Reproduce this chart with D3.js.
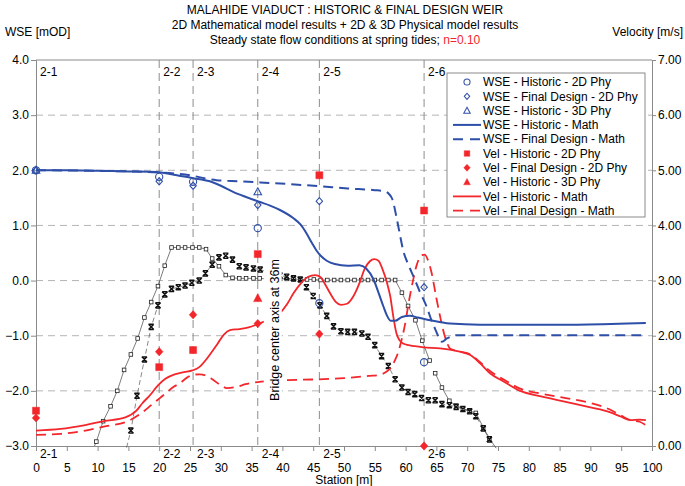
<!DOCTYPE html>
<html><head><meta charset="utf-8">
<script src="https://cdn.jsdelivr.net/npm/d3@7"></script>
<style>
body{margin:0;background:#fff;}
svg{font-family:"Liberation Sans",Arial,sans-serif;}
</style></head>
<body><svg id="c" width="685" height="486"></svg>
<script>
// ---------- DATA ----------
const xTicks = [0,5,10,15,20,25,30,35,40,45,50,55,60,65,70,75,80,85,90,95,100];
const wseTicks = [-3,-2,-1,0,1,2,3,4];
const velTicks = [0,1,2,3,4,5,6,7];
const stationPos = [0,20,25.5,36,46,63];
const stationLabels = ["2-1","2-2","2-3","2-4","2-5","2-6"];

const wseHist2D = [[0,2.0],[20,1.88],[25.5,1.79],[36,0.95],[46,-0.41],[63,-1.48]];
const wseFinal2D = [[0,2.0],[20,1.80],[25.5,1.72],[36,1.37],[46,1.44],[63,-0.12]];
const wseHist3D = [[0,2.0],[36,1.61]];
const velHist2D = [[0,0.64],[20,1.43],[25.5,1.74],[36,3.48],[46,4.91],[63,4.27]];
const velFinal2D = [[0,0.51],[20,1.71],[25.5,2.38],[36,2.22],[46,2.03],[63,0.0]];
const velHist3D = [[36,2.68]];

const wseHistMath = [[0,2.0],[5,2.0],[10,1.99],[15,1.98],[19.6,1.97],[22,1.93],[25.3,1.86],[28.2,1.80],[30,1.72],[32,1.61],[34,1.52],[36.2,1.43],[38,1.36],[39.6,1.28],[41.8,1.13],[43,1.01],[43.9,0.86],[44.8,0.68],[45.5,0.55],[46.3,0.44],[47.2,0.36],[48.5,0.30],[50.6,0.27],[52.5,0.28],[53.6,0.22],[54.8,0.02],[55.6,-0.22],[56.4,-0.47],[57,-0.64],[57.6,-0.73],[58.3,-0.73],[59.4,-0.66],[60.7,-0.64],[62,-0.67],[64,-0.72],[67.2,-0.78],[72,-0.80],[77,-0.80],[85,-0.80],[92,-0.79],[96,-0.78],[99,-0.77]];
const wseFinalMath = [[0,2.0],[10,1.99],[20,1.96],[25.5,1.90],[27.5,1.85],[29.3,1.82],[33,1.80],[36.4,1.78],[41,1.75],[46.1,1.71],[50.6,1.67],[55,1.64],[56.5,1.62],[57.3,1.57],[57.9,1.46],[58.5,1.16],[59.1,0.82],[59.6,0.55],[60.4,0.30],[61.3,0.07],[62.3,-0.20],[63.4,-0.47],[64.2,-0.72],[65,-0.93],[65.6,-1.08],[65.9,-1.11],[66.7,-1.05],[68.3,-0.99],[72,-0.99],[80,-0.99],[90,-0.99],[99,-0.99]];
const velHistMath = [[0,0.28],[4,0.31],[8,0.38],[11,0.45],[14.5,0.52],[16.3,0.64],[17.3,0.78],[18.5,0.92],[19.8,1.10],[21,1.22],[22.5,1.30],[24,1.34],[25.4,1.37],[26.5,1.43],[27.5,1.55],[28.3,1.67],[29.5,1.86],[30.5,2.02],[31.5,2.10],[33,2.12],[34.5,2.15],[36.2,2.22],[38,2.30],[39.6,2.41],[40.8,2.58],[41.8,2.77],[43,2.95],[44.2,3.07],[45.3,3.10],[46.2,3.06],[47,2.92],[47.8,2.76],[48.7,2.61],[49.5,2.56],[50.5,2.58],[51.5,2.71],[52.6,2.98],[53.3,3.20],[54.2,3.35],[54.9,3.39],[55.6,3.36],[56.2,3.22],[57,2.95],[57.5,2.72],[58,2.35],[58.5,2.05],[59,1.92],[59.6,1.86],[60.5,1.83],[61.5,1.81],[62.9,1.79],[65.6,1.77],[68.8,1.71],[70.5,1.65],[72.1,1.50],[73.7,1.32],[75.9,1.17],[78.6,1.00],[82,0.90],[86,0.80],[90,0.70],[93,0.62],[95,0.53],[96.5,0.47],[98,0.48],[99,0.47]];
const velFinalMath = [[0,0.20],[4,0.22],[8,0.28],[11,0.35],[15.3,0.47],[17.4,0.62],[19,0.77],[20,0.86],[21,0.95],[22.3,1.07],[23.4,1.14],[24.5,1.24],[25.4,1.29],[26.6,1.30],[27.5,1.28],[28.5,1.22],[30,1.10],[31,1.05],[32.5,1.07],[34,1.12],[36,1.16],[40,1.19],[46,1.21],[50,1.23],[54,1.27],[55.8,1.29],[56.8,1.34],[57.6,1.42],[58.3,1.56],[58.8,1.70],[59.4,1.95],[59.9,2.20],[60.5,2.60],[61.2,3.00],[61.8,3.28],[62.6,3.46],[63.1,3.47],[63.6,3.38],[64.2,3.15],[65,2.68],[65.6,2.35],[66.1,2.10],[66.7,1.88],[67.2,1.77],[68.5,1.72],[70.5,1.66],[72,1.53],[73.7,1.36],[76,1.20],[78.6,1.04],[82,0.95],[86,0.87],[90,0.78],[93,0.67],[95,0.55],[96.5,0.47],[98,0.44],[99,0.38]];

// bed profiles (WSE units)
const bedSquares = [[9.5,-3.0,0],[9.8,-2.92],[10.9,-2.55],[12.1,-2.28],[13.2,-2.0],[14.3,-1.62],[15.4,-1.34],[16.5,-1.05],[17.6,-0.67],[18.7,-0.39],[19.8,-0.10],[20.9,0.27],[22.0,0.60],[23.1,0.60],[24.2,0.60],[25.4,0.60],[26.5,0.60],[27.6,0.57],[28.6,0.40],[29.7,0.26],[30.8,0.10],[31.9,0.05],[33.0,0.04],[34.1,0.04],[35.3,0.04],[36.3,0.04],[37.4,0.03],[38.5,0.03],[39.6,0.03],[40.7,0.03],[41.8,0.03],[42.9,0.02],[44.0,0.02],[45.1,0.02],[46.2,0.01],[47.3,0.01],[48.4,0.01],[49.5,0.01],[50.6,0.01],[51.7,0.01],[52.8,0.01],[53.9,0.01],[55.0,0.01],[56.1,0.01],[57.2,0.01],[58.3,0.01],[59.4,-0.22],[60.4,-0.46],[61.6,-0.72],[62.7,-1.09],[63.9,-1.45],null,[64.8,-1.68],[65.9,-1.94],[67.1,-2.18],[68.2,-2.27],[69.3,-2.32],[70.4,-2.37],[71.4,-2.40],[72.6,-2.66],[73.6,-2.86],[74.7,-3.04,0]];
const bedCrosses = [[14.7,-3.03,0],[15.4,-2.72],[16.4,-2.09],[17.6,-1.43],[18.7,-0.84],[19.8,-0.45],[20.9,-0.25],[22.0,-0.15],[23.1,-0.12],[24.2,-0.09],[25.3,-0.04],[26.5,0.0],[27.5,0.13],[28.6,0.29],[29.7,0.42],[30.8,0.45],[31.9,0.38],[33.0,0.26],[34.1,0.24],[35.3,0.22],[36.4,0.20],[37.5,0.16],[38.6,0.12],[39.6,0.09],[40.7,0.07],[41.8,0.04],[42.9,0.02],[43.9,-0.12],[45.0,-0.28],[46.1,-0.45],[47.2,-0.64],[48.3,-0.83],[49.5,-0.92],[50.6,-0.93],[51.7,-0.93],[52.9,-0.96],[53.9,-1.02],[55.0,-1.17],[56.1,-1.37],[57.2,-1.55],[58.3,-1.79],[59.4,-1.94],[60.4,-2.02],[61.5,-2.06],[62.6,-2.13],[63.7,-2.17],[64.8,-2.17],[65.9,-2.24],[67.1,-2.26],[68.2,-2.29],[69.3,-2.33],[70.4,-2.37],[71.4,-2.46],[72.6,-2.68],[73.6,-2.88],[74.2,-3.0,0]];

const legendLabels = ["WSE - Historic - 2D Phy","WSE - Final Design - 2D Phy","WSE - Historic - 3D Phy","WSE - Historic - Math","WSE - Final Design - Math","Vel - Historic - 2D Phy","Vel - Final Design - 2D Phy","Vel - Historic - 3D Phy","Vel - Historic - Math","Vel - Final Design - Math"];

// ---------- DRAW ----------
const BLUE = "#2E4FA8", RED = "#F2262B", GRID = "#b4b4b4", AX = "#8a8a8a";
const svg = d3.select("#c");
const L = 36, R = 652, T = 60, B = 446;
const x = d3.scaleLinear([0,100],[L,R]);
const y = d3.scaleLinear([-3,4],[B,T]);
const yv = d3.scaleLinear([0,7],[B,T]);

// titles
const tg = svg.append("g").attr("font-size",12).attr("text-anchor","middle").attr("fill","#000");
tg.append("text").attr("x",345).attr("y",14).text("MALAHIDE VIADUCT : HISTORIC & FINAL DESIGN WEIR");
tg.append("text").attr("x",345).attr("y",29).text("2D Mathematical model results + 2D & 3D Physical model results");
const t3 = tg.append("text").attr("x",345).attr("y",44);
t3.append("tspan").text("Steady state flow conditions at spring tides; ");
t3.append("tspan").attr("fill",RED).text("n=0.10");
svg.append("text").attr("x",5).attr("y",36).attr("font-size",12).text("WSE [mOD]");
svg.append("text").attr("x",683).attr("y",36).attr("font-size",12).attr("text-anchor","end").text("Velocity [m/s]");

// horizontal grid
svg.append("g").selectAll("line").data(wseTicks.filter(d=>d>-3&&d<4)).join("line")
  .attr("x1",L).attr("x2",R).attr("y1",d=>y(d)).attr("y2",d=>y(d))
  .attr("stroke",GRID).attr("stroke-dasharray","7,5").attr("stroke-width",1);
// top border
svg.append("line").attr("x1",L).attr("x2",R).attr("y1",T).attr("y2",T).attr("stroke",AX);

// station lines
svg.append("g").selectAll("line").data(stationPos.slice(1)).join("line")
  .attr("x1",d=>x(d)).attr("x2",d=>x(d)).attr("y1",T).attr("y2",B)
  .attr("stroke","#8c8c8c").attr("stroke-dasharray","8,5").attr("stroke-width",1);
const sl = svg.append("g").attr("font-size",12);
sl.selectAll("text.top").data(stationPos).join("text").attr("class","top")
  .attr("x",d=>x(d)+4).attr("y",T+16).text((d,i)=>stationLabels[i]);
sl.selectAll("text.bot").data(stationPos).join("text").attr("class","bot")
  .attr("x",d=>x(d)+4).attr("y",B+12).text((d,i)=>stationLabels[i]);

// axes
const fmt1 = d3.format(".1f"), fmt2 = d3.format(".2f");
const gl = svg.append("g").attr("transform",`translate(${L},0)`)
  .call(d3.axisLeft(y).tickValues(wseTicks).tickFormat(fmt1).tickSize(5).tickPadding(2));
const gr = svg.append("g").attr("transform",`translate(${R},0)`)
  .call(d3.axisRight(yv).tickValues(velTicks).tickFormat(fmt2).tickSize(4).tickPadding(2));
const gb = svg.append("g").attr("transform",`translate(0,${B})`)
  .call(d3.axisBottom(x).tickValues(xTicks).tickFormat(d3.format("d")).tickSize(5).tickPadding(12));
[gl,gr,gb].forEach(g=>{
  g.selectAll("path,line").attr("stroke",AX);
  g.selectAll("text").attr("font-size",12).attr("fill","#000").attr("font-family","Liberation Sans, Arial, sans-serif");
});
svg.append("text").attr("x",344).attr("y",484).attr("font-size",12).attr("text-anchor","middle").text("Station [m]");

// bed profiles
const lineW = d3.line().defined(d=>d!==null).x(d=>x(d[0])).y(d=>y(d[1]));
svg.append("path").datum(bedSquares).attr("d",lineW).attr("fill","none").attr("stroke","#444").attr("stroke-width",0.7);
svg.append("path").datum(bedCrosses).attr("d",lineW).attr("fill","none").attr("stroke","#555").attr("stroke-width",0.7).attr("stroke-dasharray","5,3");
svg.append("g").selectAll("rect").data(bedSquares.filter(d=>d&&d.length===2)).join("rect")
  .attr("x",d=>x(d[0])-1.8).attr("y",d=>y(d[1])-1.8).attr("width",3.6).attr("height",3.6)
  .attr("fill","#fff").attr("stroke","#222").attr("stroke-width",0.8);
svg.append("g").selectAll("path").data(bedCrosses.filter(d=>d.length===2)).join("path")
  .attr("transform",d=>`translate(${x(d[0])},${y(d[1])})`)
  .attr("d","M-2.6,-2.6L2.6,2.6M2.6,-2.6L-2.6,2.6M-2.6,-2.6H2.6M-2.6,2.6H2.6")
  .attr("stroke","#111").attr("stroke-width",1.4).attr("fill","none");

// math lines
const curve = d3.curveMonotoneX;
const lW = d3.line().x(d=>x(d[0])).y(d=>y(d[1])).curve(curve);
const lV = d3.line().x(d=>x(d[0])).y(d=>yv(d[1])).curve(curve);
svg.append("path").datum(velFinalMath).attr("d",lV).attr("fill","none").attr("stroke",RED).attr("stroke-width",1.8).attr("stroke-dasharray","10,6");
svg.append("path").datum(velHistMath).attr("d",lV).attr("fill","none").attr("stroke",RED).attr("stroke-width",1.8);
svg.append("path").datum(wseFinalMath).attr("d",lW).attr("fill","none").attr("stroke",BLUE).attr("stroke-width",2).attr("stroke-dasharray","10,6");
svg.append("path").datum(wseHistMath).attr("d",lW).attr("fill","none").attr("stroke",BLUE).attr("stroke-width",2);

// bridge label with white box
const bx = x(36) + 6;
svg.append("rect").attr("x",bx).attr("y",258).attr("width",18).attr("height",145).attr("fill","#fff");
svg.append("text").attr("transform",`translate(${bx+15},330) rotate(-90)`).attr("text-anchor","middle")
  .attr("font-size",12.5).text("Bridge center axis at 36m");

// marker symbols
const sym = {
  circle: "M3.6,0A3.6,3.6,0,1,1,-3.6,0A3.6,3.6,0,1,1,3.6,0Z",
  diamondO: "M0,-3.6L3.2,0L0,3.6L-3.2,0Z",
  triO: "M0,-4L3.8,3L-3.8,3Z",
  square: "M-3.5,-3.5H3.5V3.5H-3.5Z",
  diamondF: "M0,-4.2L3.8,0L0,4.2L-3.8,0Z",
  triF: "M0,-4.6L4.2,3.4L-4.2,3.4Z"
};
function markers(data, ys, d, filled, color){
  svg.append("g").selectAll("path").data(data).join("path")
    .attr("transform",p=>`translate(${x(p[0])},${ys(p[1])})`).attr("d",d)
    .attr("fill",filled?color:"none").attr("stroke",color).attr("stroke-width",filled?0.5:1.1);
}
markers(wseHist3D, y, sym.triO, false, BLUE);
markers(wseFinal2D, y, sym.diamondO, false, BLUE);
markers(wseHist2D, y, sym.circle, false, BLUE);
markers(velHist3D, yv, sym.triF, true, RED);
markers(velFinal2D, yv, sym.diamondF, true, RED);
markers(velHist2D, yv, sym.square, true, RED);

// legend
const lg = svg.append("g");
lg.append("rect").attr("x",447).attr("y",73).attr("width",198).attr("height",144).attr("fill","#fff").attr("stroke","#8a8a8a");
const legSpec = [
  {t:"m",d:sym.circle,f:false,c:BLUE},{t:"m",d:sym.diamondO,f:false,c:BLUE},{t:"m",d:sym.triO,f:false,c:BLUE},
  {t:"l",c:BLUE,w:2},{t:"l",c:BLUE,w:2,dash:"10,7"},
  {t:"m",d:sym.square,f:true,c:RED,s:0.8},{t:"m",d:sym.diamondF,f:true,c:RED,s:0.85},{t:"m",d:sym.triF,f:true,c:RED,s:0.8},
  {t:"l",c:RED,w:1.8},{t:"l",c:RED,w:1.8,dash:"10,7"}
];
legendLabels.forEach((lab,i)=>{
  const yy = 82 + i*14.3, s = legSpec[i];
  if(s.t==="m"){
    lg.append("path").attr("transform",`translate(467,${yy}) scale(${s.s||0.85})`).attr("d",s.d)
      .attr("fill",s.f?s.c:"none").attr("stroke",s.c).attr("stroke-width",s.f?0.5:1.2);
  } else {
    lg.append("line").attr("x1",453).attr("x2",481).attr("y1",yy).attr("y2",yy)
      .attr("stroke",s.c).attr("stroke-width",s.w).attr("stroke-dasharray",s.dash||null);
  }
  lg.append("text").attr("x",483).attr("y",yy+4.2).attr("font-size",12).text(lab);
});
</script></body></html>
